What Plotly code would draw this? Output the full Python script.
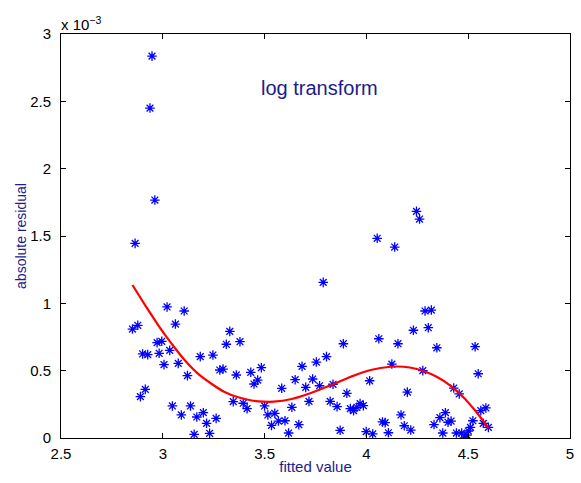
import plotly.graph_objects as go

# scatter data: fitted value vs absolute residual (values in units of 1e-3)
fitted = [2.947, 2.937, 2.961, 2.864, 2.851, 2.877, 2.901, 2.926, 2.890, 2.914,
          2.972, 2.995, 3.021, 2.982, 3.006, 3.034, 3.062, 3.105, 3.076, 3.121,
          3.047, 3.091, 3.136, 3.167, 3.199, 3.215, 3.154, 3.230, 3.262, 3.184,
          3.246, 3.280, 3.296, 3.312, 3.329, 3.379, 3.361, 3.346, 3.395, 3.414,
          3.432, 3.448, 3.466, 3.484, 3.500, 3.516, 3.550, 3.534, 3.568, 3.600,
          3.584, 3.618, 3.634, 3.650, 3.668, 3.702, 3.736, 3.718, 3.770, 3.684,
          3.754, 3.804, 3.887, 3.788, 3.836, 3.822, 3.856, 3.904, 3.871, 3.921,
          3.937, 3.953, 3.969, 3.985, 3.999, 4.031, 4.016, 4.061, 4.125, 4.155,
          4.079, 4.092, 4.108, 4.170, 4.186, 4.218, 4.201, 4.231, 4.277, 4.288,
          4.053, 4.139, 4.246, 4.261, 4.319, 4.304, 4.346, 4.534, 4.549, 4.429,
          4.456, 4.332, 4.361, 4.388, 4.401, 4.416, 4.375, 4.442, 4.468, 4.482,
          4.494, 4.501, 4.511, 4.523, 4.562, 4.587, 4.574, 4.599]
residual_e3 = [2.836, 2.450, 1.767, 1.445, 0.809, 0.837, 0.624, 0.619, 0.307, 0.361,
               0.708, 0.718, 0.973, 0.629, 0.545, 0.651, 0.846, 0.943, 0.554, 0.463,
               0.238, 0.171, 0.238, 0.156, 0.188, 0.109, 0.027, 0.035, 0.146, 0.604,
               0.616, 0.505, 0.512, 0.696, 0.792, 0.715, 0.468, 0.270, 0.258, 0.218,
               0.488, 0.401, 0.430, 0.522, 0.238, 0.171, 0.183, 0.094, 0.126, 0.128,
               0.369, 0.037, 0.228, 0.433, 0.099, 0.376, 0.438, 0.272, 0.388, 0.532,
               0.564, 0.604, 0.700, 1.156, 0.399, 0.272, 0.233, 0.332, 0.057, 0.218,
               0.203, 0.228, 0.255, 0.240, 0.047, 0.030, 0.425, 0.737, 0.549, 0.700,
               0.119, 0.114, 0.039, 0.171, 0.091, 0.059, 0.341, 0.800, 0.500, 0.943,
               1.483, 1.418, 1.683, 1.626, 0.950, 0.819, 0.670, 0.678, 0.477, 0.371,
               0.327, 0.100, 0.151, 0.188, 0.117, 0.126, 0.037, 0.037, 0.037, 0.000,
               0.022, 0.052, 0.079, 0.128, 0.203, 0.223, 0.109, 0.079]

# smooth fit curve
curve_x = [2.851, 2.913, 2.977, 3.042, 3.107, 3.171, 3.236, 3.301, 3.366, 3.431,
           3.495, 3.544, 3.633, 3.730, 3.827, 3.924, 4.021, 4.118, 4.183, 4.248,
           4.280, 4.345, 4.409, 4.474, 4.539, 4.600]
curve_y_e3 = [1.136, 0.987, 0.839, 0.703, 0.579, 0.480, 0.406, 0.344, 0.304, 0.280,
              0.270, 0.270, 0.290, 0.336, 0.393, 0.455, 0.505, 0.529, 0.529, 0.512,
              0.497, 0.455, 0.393, 0.307, 0.195, 0.072]

x_ticks = [2.5, 3, 3.5, 4, 4.5, 5]
x_ticklabels = ["2.5", "3", "3.5", "4", "4.5", "5"]
y_ticks_e3 = [0, 0.5, 1, 1.5, 2, 2.5, 3]
y_ticklabels = ["0", "0.5", "1", "1.5", "2", "2.5", "3"]

scale = 1e-3
residual = [v * scale for v in residual_e3]
curve_y = [v * scale for v in curve_y_e3]
y_ticks = [v * scale for v in y_ticks_e3]

FONT = "Liberation Sans, Arial, Helvetica, sans-serif"
NAVY = "#1c1c8c"

fig = go.Figure()
fig.add_trace(go.Scatter(
    x=fitted, y=residual, mode="markers",
    marker=dict(symbol="asterisk-open", size=8, color="#0000ff",
                line=dict(color="#0000ff", width=1.3)),
    showlegend=False, hoverinfo="skip"))
fig.add_trace(go.Scatter(
    x=curve_x, y=curve_y, mode="lines",
    line=dict(color="#ff0000", width=2.2, shape="spline"),
    showlegend=False, hoverinfo="skip"))

fig.update_layout(
    width=581, height=483,
    margin=dict(l=61, r=7, t=34, b=45),
    paper_bgcolor="white", plot_bgcolor="white",
    font=dict(family=FONT, size=15, color="black"),
    xaxis=dict(range=[2.5, 5], tickvals=x_ticks, ticktext=x_ticklabels,
               ticks="inside", ticklen=5, tickcolor="black", showgrid=False,
               zeroline=False, showline=True, linecolor="black", linewidth=1,
               mirror="ticks", ticklabelstandoff=2,
               tickfont=dict(size=15, color="black"),
               title=dict(text="fitted value", font=dict(color=NAVY, size=15),
                          standoff=0)),
    yaxis=dict(range=[0, 3e-3], tickvals=y_ticks, ticktext=y_ticklabels,
               ticks="inside", ticklen=5, tickcolor="black", showgrid=False,
               zeroline=False, showline=True, linecolor="black", linewidth=1,
               mirror="ticks", ticklabelstandoff=6,
               tickfont=dict(size=15, color="black"),
               title=dict(text="absolute residual", font=dict(color=NAVY, size=14),
                          standoff=0)),
    annotations=[
        dict(text="x 10<sup>−3</sup>", xref="paper", yref="paper", x=0, y=1,
             xanchor="left", yanchor="bottom", showarrow=False,
             font=dict(size=15, color="black"), xshift=-2, yshift=-1),
        dict(text="log transform", xref="x", yref="y", x=3.77, y=2.6e-3,
             showarrow=False, font=dict(size=20, color=NAVY)),
    ],
)

fig.write_html("out.html")
